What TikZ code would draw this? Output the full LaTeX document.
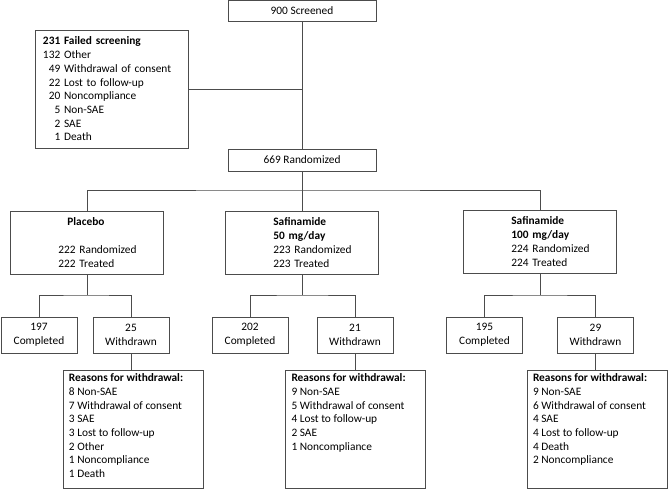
\documentclass[tikz,border=0pt]{standalone}
\usepackage{fontspec}
\setmainfont{Carlito}

\tikzstyle{line} = [draw=black!70, line width=0.6pt]
\tikzstyle{count} = [rectangle, draw=black!70, line width=0.6pt,
    text centered, minimum width=4.44cm, minimum height=0.65cm]
\tikzstyle{failed} = [rectangle, draw=black!70, line width=0.6pt,
    text width=4.11cm, inner xsep=0.24cm, align=left, minimum height=3.54cm]
\tikzstyle{arm} = [rectangle, draw=black!70, line width=0.6pt,
    text width=4.6cm, inner xsep=0pt, align=left, minimum height=1.89cm]
\tikzstyle{outcome} = [rectangle, draw=black!70, line width=0.6pt,
    text width=2.28cm, inner xsep=0pt, align=center, minimum height=1.08cm]
\tikzstyle{reasons} = [rectangle, draw=black!70, line width=0.6pt,
    inner xsep=0.18cm, inner ysep=0.1cm, anchor=north]

\newcommand{\armind}{\hspace*{1.44cm}}
\newcommand{\reasonlist}[1]{\parbox[t][3.34cm][t]{3.84cm}{\raggedright #1}}

\begin{document}
\begin{tikzpicture}[x=0.03cm, y=-0.03cm,
    every node/.style={font=\fontsize{9.7}{11.7}\selectfont}]
	\useasboundingbox (0,0) rectangle (668,489);
	\node [count] (scr) at (302,11) {900 Screened};
	\node [failed] (fail) at (111.5,89) {\textbf{231 Failed screening}\\
		132 Other\\
		\phantom{0}49 Withdrawal of consent\\
		\phantom{0}22 Lost to follow-up\\
		\phantom{0}20 Noncompliance\\
		\phantom{00}5 Non-SAE\\
		\phantom{00}2 SAE\\
		\phantom{00}1 Death};
	\node [count, minimum height=0.66cm] (rand) at (302,160) {669 Randomized};
	%
	\node [arm] (plac) at (87,242.5) {\hspace*{1.71cm}\textbf{Placebo}\\[11.7pt]
		\armind 222 Randomized\\ \armind 222 Treated};
	\node [arm] (sfa) at (302,242.5) {\armind\textbf{Safinamide}\\
		\armind\textbf{50 mg/day}\\ \armind 223 Randomized\\ \armind 223 Treated};
	\node [arm] (sfb) at (540,241.5) {\armind\textbf{Safinamide}\\
		\armind\textbf{100 mg/day}\\ \armind 224 Randomized\\ \armind 224 Treated};
	%
	\node [outcome] (plcomp) at (39,335) {197\\Completed};
	\node [outcome] (plwd) at (131,335) {25\\Withdrawn};
	\node [outcome] (sfacomp) at (250,335) {202\\Completed};
	\node [outcome] (sfawd) at (355,335) {21\\Withdrawn};
	\node [outcome] (sfbcomp) at (484.5,335) {195\\Completed};
	\node [outcome] (sfbwd) at (595.5,335) {29\\Withdrawn};
	%
	\node [reasons] (plwhy) at (133,370) {\reasonlist{\textbf{Reasons for withdrawal:}\\
		8 Non-SAE\\ 7 Withdrawal of consent\\ 3 SAE\\ 3 Lost to follow-up\\
		2 Other\\ 1 Noncompliance\\ 1 Death}};
	\node [reasons] (sfawhy) at (355.5,370) {\reasonlist{\textbf{Reasons for withdrawal:}\\
		9 Non-SAE\\ 5 Withdrawal of consent\\ 4 Lost to follow-up\\ 2 SAE\\
		1 Noncompliance}};
	\node [reasons] (sfbwhy) at (597,370) {\reasonlist{\textbf{Reasons for withdrawal:}\\
		9 Non-SAE\\ 6 Withdrawal of consent\\ 4 SAE\\ 4 Lost to follow-up\\
		4 Death\\ 2 Noncompliance}};
	%
	\coordinate (armsplit) at (302,190);
	\coordinate (plsplit) at (87,295);
	\coordinate (sfasplit) at (302,295);
	\coordinate (sfbsplit) at (540,295);
	%
	\draw [line] (scr) -- (rand);
	\draw [line] (fail.east) -- (fail.east -| scr.south);
	\draw [line] (rand) -- (armsplit);
	\draw [line] (plac.north) |- (armsplit) -| (sfb.north);
	\draw [line] (armsplit) -- (sfa.north);
	%
	\draw [line] (plac) -- (plsplit);
	\draw [line] (plcomp.north) |- (plsplit) -| (plwd.north);
	\draw [line] (sfa) -- (sfasplit);
	\draw [line] (sfacomp.north) |- (sfasplit) -| (sfawd.north);
	\draw [line] (sfb) -- (sfbsplit);
	\draw [line] (sfbcomp.north) |- (sfbsplit) -| (sfbwd.north);
	%
	\draw [line] (plwd.south) -- (plwd.south |- plwhy.north);
	\draw [line] (sfawd.south) -- (sfawd.south |- sfawhy.north);
	\draw [line] (sfbwd.south) -- (sfbwd.south |- sfbwhy.north);
\end{tikzpicture}
\end{document}
